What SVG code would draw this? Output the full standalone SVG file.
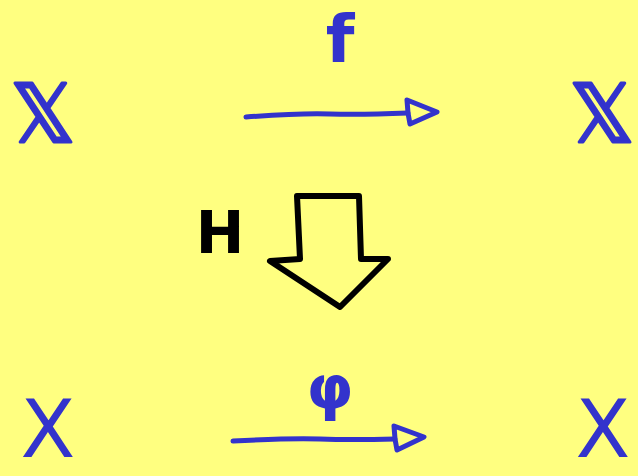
<svg xmlns="http://www.w3.org/2000/svg" width="638" height="476" viewBox="0 0 638 476">
<style>
.obj{font-family:"DejaVu Sans","Noto Sans",sans-serif;font-size:80px;fill:#3333cc;text-anchor:middle}
.dbl{stroke:#3333cc;stroke-width:3;stroke-linejoin:round}
.lbl{font-family:"DejaVu Sans","Noto Sans",sans-serif;fill:#3333cc;text-anchor:middle;font-weight:bold}
.line{fill:none;stroke:#3333cc;stroke-width:5;stroke-linecap:round;stroke-linejoin:round}
.big{fill:none;stroke:#000;stroke-width:6;stroke-linecap:round;stroke-linejoin:round}
</style>
<rect width="638" height="476" fill="#ffff80"/>
<g id="node-XX-left"><text class="obj dbl" x="43" y="142" font-size="84">𝕏</text></g>
<g id="node-XX-right"><text class="obj dbl" x="602" y="142" font-size="84">𝕏</text></g>
<g id="node-X-left"><text class="obj" x="48" y="457">X</text></g>
<g id="node-X-right"><text class="obj" x="603" y="457">X</text></g>
<g id="connectors">
<path class="line" d="M246,117 Q300,113 330,114 T408,113"/>
<path class="line" d="M408,113 L407,100 L437,112 L410,124 L408,113"/>
<text class="lbl" x="340" y="62" font-size="66" font-weight="normal">f</text>
<path class="line" d="M233,441 Q290,438 320,439 T395,439"/>
<path class="line" d="M395,439 L394,426 L424,437 L397,450 L395,439"/>
<text class="lbl" x="330" y="408" font-size="60">φ</text>
<path class="big" d="M297,196 L359,196 L361,259 L388,259 L340,307 L270,261 L300,259 Z"/>
<text x="220" y="253" font-family="DejaVu Sans,sans-serif" font-weight="bold" font-size="58" text-anchor="middle" fill="#000">H</text>
</g>
</svg>
